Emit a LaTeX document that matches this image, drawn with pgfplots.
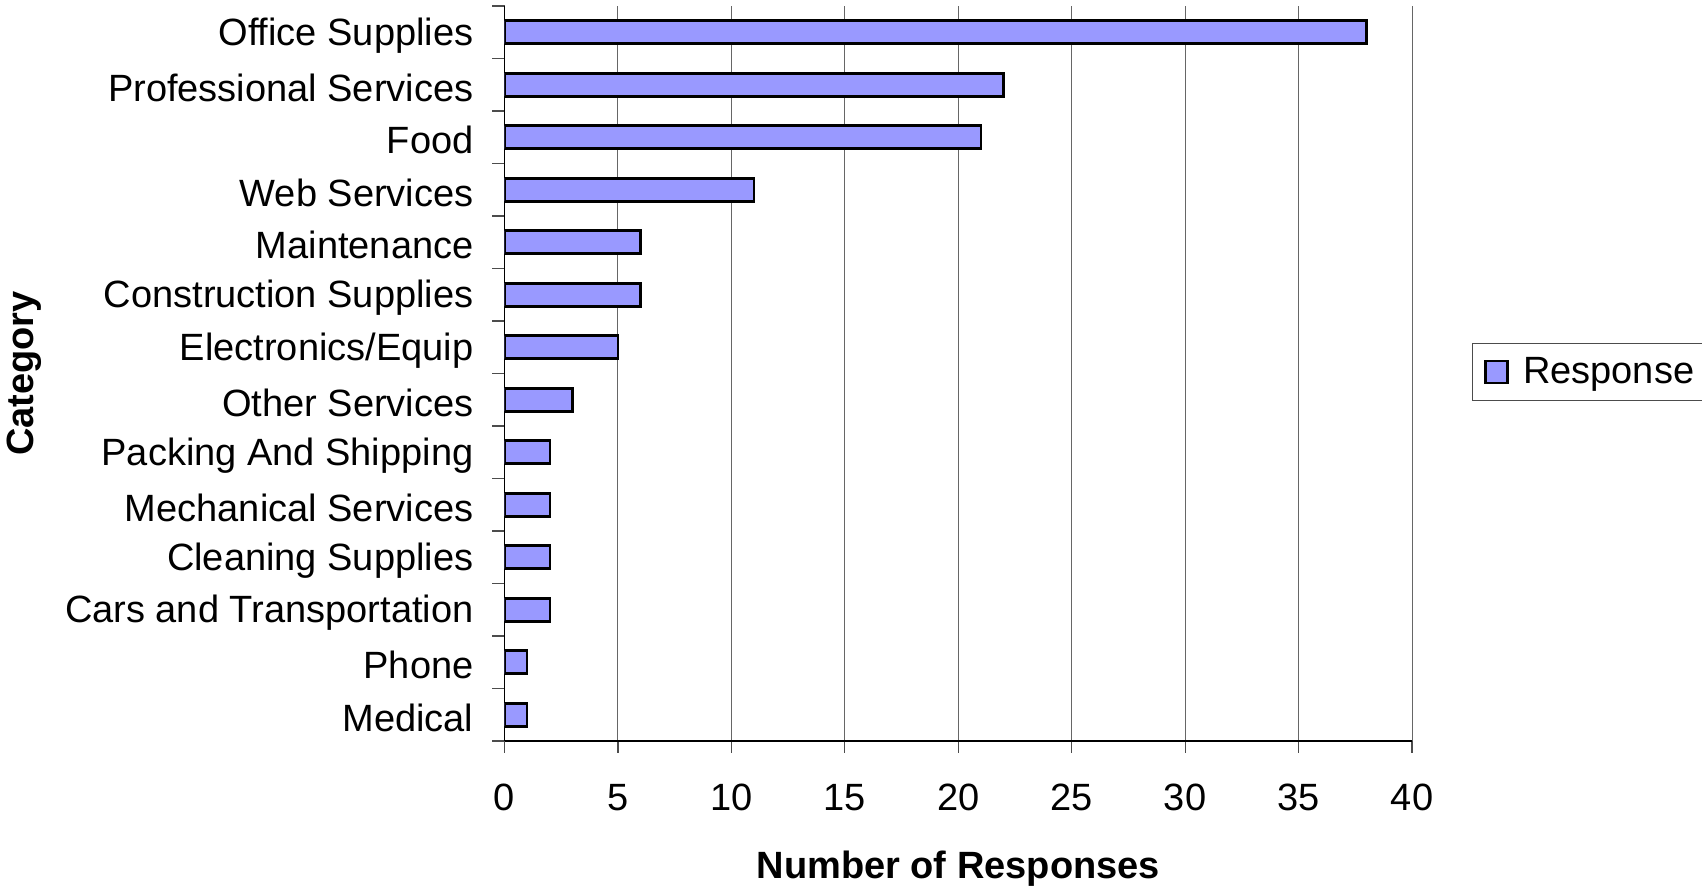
\documentclass[border=0pt]{standalone}
\usepackage{pgfplots}
\pgfplotsset{compat=1.18}
\usepackage{fontspec}
\setmainfont{Liberation Sans}
\definecolor{barfill}{HTML}{9999FF}
\begin{document}
\begin{tikzpicture}
\useasboundingbox (0,0) rectangle (851pt,443pt);
\begin{axis}[
 at={(252.25pt,72.5pt)}, anchor=south west,
 scale only axis, width=453.75pt, height=367.5pt,
 xbar, bar width=11.5pt,
 xmin=0, xmax=40, ymin=-0.5, ymax=13.5,
 axis x line*=bottom, axis y line*=left,
 axis line style={line width=0.6pt},
 xtick={0,5,...,40},
 /pgf/number format/assume math mode=true,
 xmajorgrids, grid style={draw=black!60, line width=0.5pt},
 ytick={-0.5,0.5,1.5,2.5,3.5,4.5,5.5,6.5,7.5,8.5,9.5,10.5,11.5,12.5,13.5},
 yticklabels={\empty,\empty,\empty,\empty,\empty,\empty,\empty,\empty,\empty,\empty,\empty,\empty,\empty,\empty,\empty},
 extra y ticks={0,1,2,3,4,5,6,7,8,9,10,11,12,13},
 extra y tick labels={Medical, Phone, Cars and Transportation, Cleaning Supplies, Mechanical Services, Packing And Shipping, Other Services, Electronics/Equip, Construction Supplies, Maintenance, Web Services, Food, Professional Services, Office Supplies},
 extra y tick style={tick style={draw=none}, yticklabel style={xshift=-6pt, yshift=-1.5pt}},
 tick align=outside,
 major tick length=6pt,
 tick style={line width=0.6pt, black!70},
 tick label style={font=\fontsize{19}{22}\selectfont},
 xticklabel style={yshift=-12pt},
 xlabel={\textbf{Number of Responses}},
 ylabel={\textbf{Category}},
 label style={font=\fontsize{19}{22}\selectfont},
 xlabel style={at={(axis description cs:0.5,-0.174)}, anchor=center},
 ylabel style={at={(axis description cs:-0.529,0.5)}, anchor=center},
 legend style={at={(1.0661,0.502)}, anchor=west, draw=black!70, line width=0.5pt,
   font=\fontsize{19}{22}\selectfont, inner xsep=6pt, inner ysep=5pt},
 legend cell align=left,
 legend image code/.code={\draw[#1, draw=black, line width=1.3pt] (0pt,-5.5pt) rectangle (11pt,5.5pt); \path (16pt,0pt);},
]
\addplot[fill=barfill, draw=black, line width=1.3pt] coordinates {
 (1,0) (1,1) (2,2) (2,3) (2,4) (2,5) (3,6) (5,7) (6,8) (6,9) (11,10) (21,11) (22,12) (38,13)
};
\addlegendentry{Response}
\end{axis}
\end{tikzpicture}
\end{document}
